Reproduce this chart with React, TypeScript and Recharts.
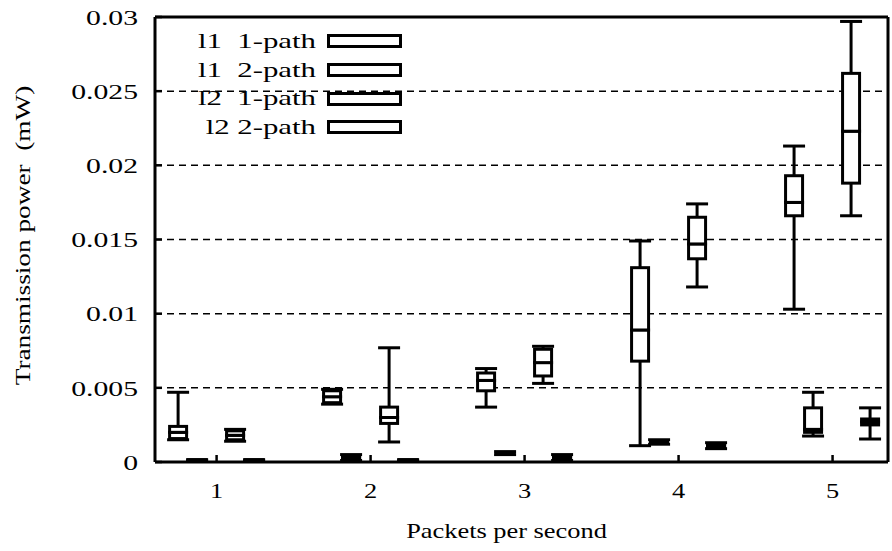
import React from 'react';
import { ComposedChart, Bar, XAxis, YAxis, CartesianGrid, Legend } from 'recharts';

const FONT = "'Liberation Serif', 'Times New Roman', serif";

const CATEGORIES = [1, 2, 3, 4, 5];
const X_TICKS = [1, 2, 3, 4, 5];
const Y_TICKS = [0, 0.005, 0.01, 0.015, 0.02, 0.025, 0.03];
const SERIES = ['l1  1-path', 'l1  2-path', 'l2  1-path', 'l2 2-path'];

// [min, q1, median, q3, max] per category
const L1_1PATH = [
    [0.0015, 0.00158, 0.002, 0.0024, 0.0047],
    [0.0039, 0.004, 0.0044, 0.0048, 0.0049],
    [0.0037, 0.0048, 0.0055, 0.006, 0.0063],
    [0.0011, 0.0068, 0.0089, 0.0131, 0.0149],
    [0.0103, 0.0166, 0.0175, 0.0193, 0.0213],
];
const L1_2PATH = [
    [0.0014, 0.0015, 0.0018, 0.0021, 0.0022],
    [0.00135, 0.0026, 0.003, 0.0037, 0.0077],
    [0.0053, 0.0058, 0.0067, 0.0076, 0.0078],
    [0.0118, 0.0137, 0.0147, 0.0165, 0.0174],
    [0.0166, 0.0188, 0.0223, 0.0262, 0.0297],
];
const L2_1PATH = [
    [0.00008, 0.0001, 0.00012, 0.00014, 0.00016],
    [0.0001, 0.0002, 0.0003, 0.0004, 0.0005],
    [0.0005, 0.00055, 0.0006, 0.00065, 0.0007],
    [0.0012, 0.00125, 0.0013, 0.0014, 0.0015],
    [0.00175, 0.002, 0.0022, 0.00365, 0.0047],
];
const L2_2PATH = [
    [0.00008, 0.0001, 0.00012, 0.00014, 0.00016],
    [0.00008, 0.0001, 0.00012, 0.00014, 0.00016],
    [0.0001, 0.0002, 0.0003, 0.0004, 0.0005],
    [0.0009, 0.001, 0.0011, 0.0012, 0.0013],
    [0.00155, 0.0025, 0.0027, 0.0029, 0.00365],
];

// slot order left -> right inside each category (null = empty middle slot)
const SLOTS: (number[][] | null)[] = [L1_1PATH, L2_1PATH, null, L1_2PATH, L2_2PATH];

const data = CATEGORIES.map((x, i) => {
    const row: Record<string, number> = { x, gap: 0.0001 };
    SLOTS.forEach((s, k) => {
        if (!s) return;
        const [mn, q1, md, q3, mx] = s[i];
        row[`s${k}_base`] = mn;
        row[`s${k}_lw`] = q1 - mn;
        row[`s${k}_lb`] = md - q1;
        row[`s${k}_hb`] = q3 - md;
        row[`s${k}_hw`] = mx - q3;
    });
    return row;
});

const SW = 3;
const BOX_HALF = 8.5;
const CAP_HALF = 11;

const Nothing = () => <g />;

const lowerWhisker = (p: any) => {
    const { x, y, width, height } = p;
    const cx = x + width / 2;
    const top = Math.min(y, y + height);
    const bot = Math.max(y, y + height);
    return (
        <g>
            <line x1={cx} x2={cx} y1={top} y2={bot} stroke="#000" strokeWidth={SW} />
            <line x1={cx - CAP_HALF} x2={cx + CAP_HALF} y1={bot} y2={bot} stroke="#000" strokeWidth={SW} />
        </g>
    );
};

const upperWhisker = (p: any) => {
    const { x, y, width, height } = p;
    const cx = x + width / 2;
    const top = Math.min(y, y + height);
    const bot = Math.max(y, y + height);
    return (
        <g>
            <line x1={cx} x2={cx} y1={top} y2={bot} stroke="#000" strokeWidth={SW} />
            <line x1={cx - CAP_HALF} x2={cx + CAP_HALF} y1={top} y2={top} stroke="#000" strokeWidth={SW} />
        </g>
    );
};

const boxPart = (p: any) => {
    const { x, y, width, height } = p;
    const cx = x + width / 2;
    const top = Math.min(y, y + height);
    const h = Math.abs(height);
    return <rect x={cx - BOX_HALF} y={top} width={BOX_HALF * 2} height={h} fill="#fff" stroke="#000" strokeWidth={SW} />;
};

const YTick = ({ x, y, payload }: any) => (
    <g transform={`translate(${x},${y}) scale(1.35,1)`}>
        <text x={0} y={0} dy="0.35em" textAnchor="end" fontFamily={FONT} fontSize={22} fill="#000">
            {String(payload.value)}
        </text>
    </g>
);

const XTick = ({ x, y, payload }: any) => (
    <g transform={`translate(${x},${y}) scale(1.2,1)`}>
        <text x={0} y={0} dy="0.71em" textAnchor="middle" fontFamily={FONT} fontSize={22} fill="#000">
            {String(payload.value)}
        </text>
    </g>
);

const XTitle = ({ viewBox }: any) => {
    const cx = viewBox.x + viewBox.width / 2 - 15;
    const cy = viewBox.y + 76;
    return (
        <g transform={`translate(${cx},${cy}) scale(1.2,1)`}>
            <text x={0} y={0} textAnchor="middle" fontFamily={FONT} fontSize={22} fill="#000">
                Packets per second
            </text>
        </g>
    );
};

const YTitle = ({ viewBox }: any) => {
    const cx = viewBox.x + 22;
    const cy = viewBox.y + viewBox.height / 2 - 4;
    return (
        <g transform={`translate(${cx},${cy}) rotate(-90) scale(1.24,1)`}>
            <text x={0} y={0} dy="0.35em" textAnchor="middle" fontFamily={FONT} fontSize={22} fill="#000" style={{ whiteSpace: 'pre' }}>
                {'Transmission power  (mW)'}
            </text>
        </g>
    );
};

const LegendBox = () => (
    <div>
        {SERIES.map((name) => (
            <div key={name} style={{ display: 'flex', alignItems: 'center', height: 28.7 }}>
                <span
                    style={{
                        display: 'inline-block', width: 130, textAlign: 'right', whiteSpace: 'pre',
                        fontFamily: FONT, fontSize: 22, lineHeight: '28.7px', color: '#000',
                        transform: 'scaleX(1.4)', transformOrigin: 'right center',
                    }}
                >
                    {name}
                </span>
                <div style={{ marginLeft: 11, width: 75, height: 14, boxSizing: 'border-box', border: '3px solid #000' }} />
            </div>
        ))}
    </div>
);

const renderSlot = (k: number) => [
    <Bar key={`b${k}`} dataKey={`s${k}_base`} stackId={`s${k}`} shape={Nothing} isAnimationActive={false} legendType="none" />,
    <Bar key={`lw${k}`} dataKey={`s${k}_lw`} stackId={`s${k}`} shape={lowerWhisker} isAnimationActive={false} legendType="none" />,
    <Bar key={`lb${k}`} dataKey={`s${k}_lb`} stackId={`s${k}`} shape={boxPart} isAnimationActive={false} legendType="none" />,
    <Bar key={`hb${k}`} dataKey={`s${k}_hb`} stackId={`s${k}`} shape={boxPart} isAnimationActive={false} legendType="none" />,
    <Bar key={`hw${k}`} dataKey={`s${k}_hw`} stackId={`s${k}`} shape={upperWhisker} isAnimationActive={false} legendType="none" />,
];

export default function App() {
    return (
        <div style={{ position: 'absolute', left: 0, top: 0, background: '#fff' }}>
            <ComposedChart
                width={892}
                height={551}
                data={data}
                margin={{ top: 0, right: 0, bottom: 0, left: 0 }}
                barSize={19}
                barGap={0}
            >
                <CartesianGrid vertical={false} stroke="#000" strokeWidth={1.5} strokeDasharray="7 5" />
                <XAxis
                    dataKey="x"
                    type="number"
                    domain={[0.6, 5.36]}
                    ticks={X_TICKS}
                    allowDataOverflow
                    height={89}
                    axisLine={{ stroke: '#000', strokeWidth: 3 }}
                    tickLine={{ stroke: '#000', strokeWidth: 2.5 }}
                    tickSize={-7}
                    tickMargin={27}
                    tick={<XTick />}
                    label={<XTitle />}
                />
                <XAxis
                    xAxisId="top"
                    orientation="top"
                    dataKey="x"
                    type="number"
                    domain={[0.6, 5.36]}
                    ticks={X_TICKS}
                    allowDataOverflow
                    height={17}
                    axisLine={{ stroke: '#000', strokeWidth: 3 }}
                    tickLine={{ stroke: '#000', strokeWidth: 2.5 }}
                    tickSize={-7}
                    tick={false}
                />
                <YAxis
                    type="number"
                    domain={[0, 0.03]}
                    ticks={Y_TICKS}
                    allowDataOverflow
                    width={155}
                    axisLine={{ stroke: '#000', strokeWidth: 3 }}
                    tickLine={{ stroke: '#000', strokeWidth: 2.5 }}
                    tickSize={-7}
                    tickMargin={24}
                    tick={<YTick />}
                    label={<YTitle />}
                />
                <YAxis
                    yAxisId="right"
                    orientation="right"
                    type="number"
                    domain={[0, 0.03]}
                    ticks={Y_TICKS}
                    allowDataOverflow
                    width={4}
                    axisLine={{ stroke: '#000', strokeWidth: 3 }}
                    tickLine={{ stroke: '#000', strokeWidth: 2.5 }}
                    tickSize={-7}
                    tick={false}
                />
                <Legend
                    layout="vertical"
                    align="center"
                    verticalAlign="middle"
                    wrapperStyle={{ left: 186, top: 27, width: 240, height: 116, right: 'auto', bottom: 'auto' }}
                    content={() => <LegendBox />}
                />
                {renderSlot(0)}
                {renderSlot(1)}
                <Bar dataKey="gap" stackId="gap" shape={Nothing} isAnimationActive={false} legendType="none" />
                {renderSlot(3)}
                {renderSlot(4)}
            </ComposedChart>
        </div>
    );
}
